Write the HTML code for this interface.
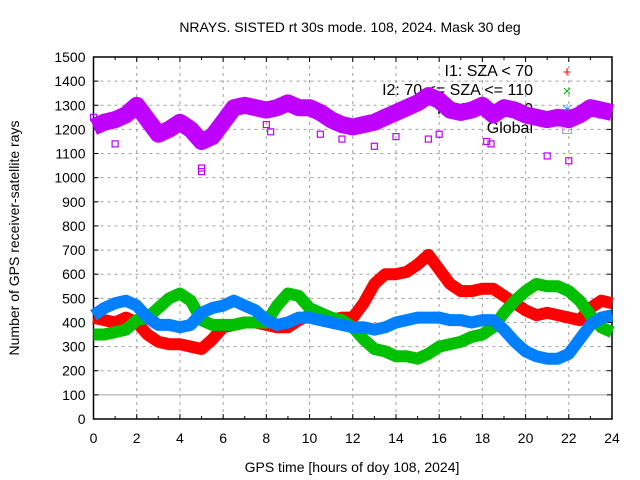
<!DOCTYPE html>
<html><head><meta charset="utf-8"><style>
body{margin:0;background:#fff}
svg{display:block;font-family:"Liberation Sans",sans-serif}
</style></head><body>
<svg id="chart" width="640" height="480" viewBox="0 0 640 480">
<g id="grid"></g><g id="axes"></g><g id="legend"></g><g id="series"></g>
<text x="350" y="32" text-anchor="middle" font-size="14">NRAYS. SISTED rt 30s mode. 108, 2024. Mask 30 deg</text>
<text x="352" y="472" text-anchor="middle" font-size="14">GPS time [hours of doy 108, 2024]</text>
<text transform="translate(19,238) rotate(-90)" text-anchor="middle" font-size="14">Number of GPS receiver-satellite rays</text>
</svg>
<script>
const hours=[0,0.5,1,1.5,2,2.5,3,3.5,4,4.5,5,5.5,6,6.5,7,7.5,8,8.5,9,9.5,10,10.5,11,11.5,12,12.5,13,13.5,14,14.5,15,15.5,16,16.5,17,17.5,18,18.5,19,19.5,20,20.5,21,21.5,22,22.5,23,23.5,24];
const globalVals=[1210,1230,1240,1260,1300,1240,1180,1200,1230,1200,1150,1170,1230,1290,1300,1290,1280,1290,1310,1290,1290,1270,1240,1220,1210,1220,1230,1250,1270,1290,1310,1340,1320,1280,1270,1280,1300,1260,1290,1280,1260,1250,1240,1250,1240,1260,1290,1280,1270];
const i1Vals=[420,410,400,420,400,350,320,310,310,300,290,330,380,390,400,400,390,380,380,410,430,420,410,420,420,480,560,600,600,610,640,680,620,560,530,530,540,540,510,480,450,430,440,430,420,410,460,490,480];
const i2Vals=[350,350,360,370,410,420,460,500,520,490,410,390,390,390,400,400,400,470,520,510,460,440,420,410,380,330,290,280,260,260,250,270,300,310,320,340,350,380,440,490,530,560,550,550,530,490,430,380,360];
const i3Vals=[430,460,480,490,470,420,390,390,380,390,440,460,470,490,470,450,410,390,400,420,420,410,400,390,380,380,370,380,400,410,420,420,420,410,410,400,410,410,370,320,280,260,250,250,270,330,390,420,430];
const outlierHours=[0,1,5,5,8,8.2,10.5,11.5,13,14,15.5,16,18.2,18.4,21,22,23.5];
const outlierGlobal=[1250,1140,1040,1025,1220,1190,1180,1160,1130,1170,1160,1180,1150,1140,1090,1070,1260];
const xTicks=[0,2,4,6,8,10,12,14,16,18,20,22,24];
const yTicks=[0,100,200,300,400,500,600,700,800,900,1000,1100,1200,1300,1400,1500];
const legendLabels=["I1: SZA < 70","I2: 70 <= SZA <= 110","I3: SZA > 110","Global"];
const NS="http://www.w3.org/2000/svg";
const X0=93.5,X1=612,Y0=419,Y1=57;
const xs=h=>X0+(X1-X0)*h/24, ys=v=>Y0-(Y0-Y1)*v/1500;
function mk(t,a,p){const e=document.createElementNS(NS,t);for(const k in a)e.setAttribute(k,a[k]);p.appendChild(e);return e;}
const grid=document.getElementById('grid'),axes=document.getElementById('axes');
yTicks.forEach(v=>{
  if(v>0&&v<1500){const l=mk('line',{x1:X0,x2:X1,y1:ys(v),y2:ys(v),stroke:'#a0a0a0','stroke-dasharray':v==100?'':'3,4','stroke-width':1},grid);
  
  }
  const t=mk('text',{x:X0-8,y:ys(v)+5,'text-anchor':'end','font-size':14},axes);t.textContent=v;
  
  
  mk('line',{x1:X0,x2:X0+5,y1:ys(v),y2:ys(v),stroke:'#000'},axes);
  mk('line',{x1:X1,x2:X1-5,y1:ys(v),y2:ys(v),stroke:'#000'},axes);
});
xTicks.forEach(h=>{
  if(h>0&&h<24){const l=mk('line',{x1:xs(h),x2:xs(h),y1:Y0,y2:Y1,stroke:'#a0a0a0','stroke-dasharray':'3,4'},grid);
  
  }
  const t=mk('text',{x:xs(h),y:Y0+24,'text-anchor':'middle','font-size':14},axes);t.textContent=h;
  
  
  mk('line',{x1:xs(h),x2:xs(h),y1:Y0,y2:Y0-5,stroke:'#000'},axes);
  mk('line',{x1:xs(h),x2:xs(h),y1:Y1,y2:Y1+5,stroke:'#000'},axes);
});
for(let h=1;h<24;h+=2){mk('line',{x1:xs(h),x2:xs(h),y1:Y0,y2:Y0-3,stroke:'#000'},axes);mk('line',{x1:xs(h),x2:xs(h),y1:Y1,y2:Y1+3,stroke:'#000'},axes);}
const fr=mk('rect',{x:X0,y:Y1,width:X1-X0,height:Y0-Y1,fill:'none',stroke:'#000','stroke-width':1.5},axes);


const lg=document.getElementById('legend');
const lcol=['#ff0000','#00c000','#0080ff','#c000ff'],lsym=['+','×','✳','□'];
legendLabels.forEach((s,i)=>{
  const y=76+i*19;
  const t=mk('text',{x:533,y:y,'text-anchor':'end','font-size':16},lg);t.textContent=s;
  
  
  const k=mk('text',{x:567,y:y+1,'text-anchor':'middle','font-size':15,fill:lcol[i]},lg);k.textContent=lsym[i];
  
  
});
const sg=document.getElementById('series');
const series=[[globalVals,'#c000ff',17,'series-global'],[i1Vals,'#ff0000',12,'series-i1'],[i2Vals,'#00c000',12,'series-i2'],[i3Vals,'#0080ff',12,'series-i3']];
series.forEach(([vals,c,w,n])=>{
  const d=vals.map((v,i)=>(i?'L':'M')+xs(hours[i]).toFixed(1)+','+ys(v).toFixed(1)).join('');
  const p=mk('path',{d:d,fill:'none',stroke:c,'stroke-width':w,'stroke-linejoin':'round','stroke-linecap':'butt'},sg);
  
  
  if(n==='series-global'){
    outlierHours.forEach((h,i)=>{
      const r=mk('rect',{x:xs(h)-3,y:ys(outlierGlobal[i])-3,width:6,height:6,fill:'none',stroke:c,'stroke-width':1.2},sg);
      
      
    });
  }
});
</script>
</body></html>
